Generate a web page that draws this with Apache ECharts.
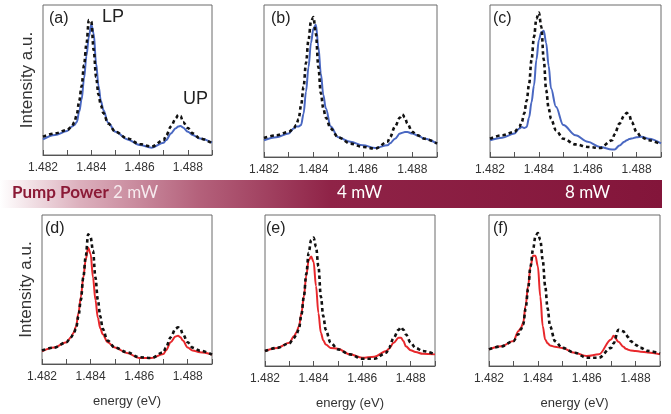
<!DOCTYPE html>
<html><head><meta charset="utf-8">
<script src="https://cdn.jsdelivr.net/npm/echarts@6/dist/echarts.min.js"></script>
<style>html,body{margin:0;padding:0;background:#fff}#c{width:671px;height:414px}</style>
</head><body><div id="c"></div>
<script>
// energy grid (eV)
const energy = [1.4820,1.4825,1.4830,1.4832,1.4833,1.4834,1.4835,1.4836,1.4837,1.4838,1.4839,1.4840,1.4841,1.4842,1.4843,1.4844,1.4845,1.4847,1.4850,1.4855,1.4860,1.4865,1.4870,1.4871,1.4873,1.4875,1.4876,1.4877,1.4878,1.4880,1.4882,1.4885,1.4890];
const tickLabels = ['1.482','1.484','1.486','1.488'];
const panelLabels = ['(a)','(b)','(c)','(d)','(e)','(f)'];
const powerLabels = ['2 mW','4 mW','8 mW'];
const peakLabels = ['LP','UP'];

// panel (a)
const aSolid  = [.104,.133,.16,.19,.20,.22,.29,.37,.51,.66,.79,.87,.81,.61,.46,.36,.30,.215,.155,.104,.067,.049,.082,.10,.144,.178,.19,.193,.184,.155,.133,.11,.082];
const aDashed = [.122,.144,.167,.19,.22,.27,.36,.46,.60,.74,.90,.89,.70,.52,.40,.33,.28,.21,.155,.11,.073,.056,.10,.13,.19,.245,.267,.26,.22,.18,.144,.11,.078];
// panel (b)
const bSolid  = [.11,.13,.154,.187,.20,.20,.21,.285,.43,.59,.75,.846,.87,.725,.55,.41,.32,.20,.13,.10,.077,.059,.077,.09,.12,.154,.16,.165,.165,.154,.143,.12,.088];
const bDashed = [.125,.143,.165,.187,.21,.25,.34,.46,.62,.77,.89,.92,.81,.59,.42,.32,.26,.187,.13,.088,.066,.055,.10,.13,.20,.26,.28,.26,.22,.165,.143,.12,.088];
// panel (c)
const cSolid  = [.11,.127,.154,.187,.198,.19,.198,.26,.36,.47,.64,.77,.82,.83,.75,.60,.45,.33,.21,.143,.10,.066,.05,.05,.075,.10,.11,.118,.122,.13,.133,.12,.09];
const cDashed = [.12,.143,.165,.198,.23,.286,.37,.48,.64,.79,.91,.95,.857,.64,.44,.32,.25,.176,.12,.083,.066,.059,.11,.15,.22,.275,.29,.275,.23,.165,.13,.11,.083];
// panel (d)
const dSolid  = [.085,.11,.146,.18,.21,.25,.34,.45,.58,.70,.78,.74,.58,.43,.31,.24,.20,.146,.11,.074,.04,.04,.067,.09,.146,.185,.19,.18,.157,.11,.09,.079,.063];
const dDashed = [.09,.11,.146,.18,.205,.236,.32,.43,.58,.72,.87,.85,.76,.58,.43,.32,.236,.157,.11,.079,.045,.04,.079,.11,.18,.236,.247,.236,.20,.146,.11,.09,.063];
// panel (e)
const eSolid  = [.099,.12,.154,.198,.225,.264,.35,.46,.60,.70,.725,.69,.53,.35,.22,.17,.143,.12,.114,.077,.055,.062,.099,.115,.154,.187,.187,.165,.13,.105,.092,.081,.077];
const eDashed = [.099,.12,.15,.187,.21,.25,.34,.46,.61,.75,.835,.85,.79,.66,.46,.33,.24,.154,.11,.077,.048,.048,.088,.12,.187,.24,.257,.24,.21,.154,.12,.099,.077];
// panel (f)
const fSolid  = [.11,.13,.165,.23,.25,.286,.40,.53,.66,.73,.73,.66,.46,.264,.176,.15,.136,.127,.12,.088,.066,.077,.176,.20,.16,.127,.115,.108,.103,.099,.095,.09,.077];
const fDashed = [.11,.13,.165,.21,.24,.275,.38,.51,.66,.77,.857,.88,.835,.70,.53,.38,.264,.165,.12,.088,.055,.055,.12,.15,.24,.23,.21,.19,.165,.14,.12,.10,.083];

const solids = [aSolid,bSolid,cSolid,dSolid,eSolid,fSolid];
const dashes = [aDashed,bDashed,cDashed,dDashed,eDashed,fDashed];
const solidColors = ['#4a68c2','#4a68c2','#4a68c2','#e8282c','#e8282c','#e8282c'];

const boxes = [[43,5,169,150],[264,5,173,152],[490,5,171,152],[42,215,170,149],[265,215,170,151],[489,215,171,151]];

const grids=[], xAxes=[], yAxes=[], series=[];
boxes.forEach((b,i)=>{
  grids.push({left:b[0],top:b[1],width:b[2],height:b[3],show:true,borderColor:'#6a6a6a',borderWidth:1,backgroundColor:'transparent'});
  xAxes.push({type:'value',gridIndex:i,min:1.482,max:1.489,interval:0.001,
    axisLine:{show:true,onZero:false,lineStyle:{color:'#555',width:1}},
    axisTick:{show:true,inside:true,length:5,lineStyle:{color:'#555'}},
    splitLine:{show:false},
    axisLabel:{color:'#333',fontSize:12,fontFamily:'Liberation Sans',margin:7,
      formatter:v=>{const s=v.toFixed(3);return tickLabels.includes(s)?s:'';}},
    name: i>=3?'energy (eV)':'', nameLocation:'middle', nameGap:31,
    nameTextStyle:{color:'#333',fontSize:13,fontFamily:'Liberation Sans'}});
  yAxes.push({type:'value',gridIndex:i,min:0,max:1,
    axisLine:{show:false},axisTick:{show:false},axisLabel:{show:false},splitLine:{show:false},
    name:(i===0||i===3)?'Intensity a.u.':'',nameLocation:'middle',nameGap:7,
    nameTextStyle:{color:'#333',fontSize:17,fontFamily:'Liberation Sans'}});
  series.push({type:'line',xAxisIndex:i,yAxisIndex:i,showSymbol:false,smooth:0.35,smoothMonotone:'x',
    data:energy.map((x,k)=>[x,solids[i][k]]),lineStyle:{color:solidColors[i],width:2},silent:true,z:2});
  series.push({type:'line',xAxisIndex:i,yAxisIndex:i,showSymbol:false,smooth:0.35,smoothMonotone:'x',
    data:energy.map((x,k)=>[x,dashes[i][k]]),lineStyle:{color:'#111',width:2.6,type:[3.5,3]},silent:true,z:3});
});

const labelPos = [[49,11],[271,11],[493,11],[45,221],[266,221],[493,221]];
const graphic = [
  {type:'rect',shape:{x:0,y:180,width:662,height:28},style:{fill:new echarts.graphic.LinearGradient(0,0,1,0,[
    {offset:0,color:'#ffffff'},{offset:0.12,color:'#dcb0bd'},{offset:0.3,color:'#b4617b'},{offset:0.5,color:'#8f2347'},{offset:1,color:'#83153a'}])},z:0},
  {type:'text',left:12,top:184,style:{text:'Pump Power',fill:'#8b1a36',font:'bold 17px Lato',textVerticalAlign:'top'}},
  {type:'text',left:113,top:184,style:{text:powerLabels[0],fill:'#f6eaee',font:'17px Lato'}},
  {type:'text',left:337,top:184,style:{text:powerLabels[1],fill:'#ffffff',font:'17px Lato'}},
  {type:'text',left:565,top:184,style:{text:powerLabels[2],fill:'#ffffff',font:'17px Lato'}},
  {type:'text',left:102,top:8,style:{text:peakLabels[0],fill:'#222',font:'18px Liberation Sans'}},
  {type:'text',left:183,top:90,style:{text:peakLabels[1],fill:'#222',font:'18px Liberation Sans'}}
];
panelLabels.forEach((t,i)=>graphic.push({type:'text',left:labelPos[i][0],top:labelPos[i][1],style:{text:t,fill:'#222',font:'16px Liberation Sans'}}));

const chart = echarts.init(document.getElementById('c'),null,{renderer:'canvas'});
chart.setOption({animation:false,grid:grids,xAxis:xAxes,yAxis:yAxes,series,graphic});
</script></body></html>
